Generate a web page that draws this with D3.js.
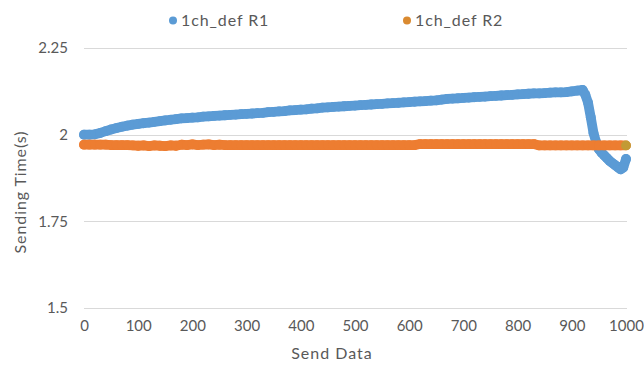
<!DOCTYPE html>
<html>
<head>
<meta charset="utf-8">
<script src="https://cdn.jsdelivr.net/npm/d3@7/dist/d3.min.js"></script>
<style>
  html, body { margin: 0; padding: 0; background: #ffffff; }
  svg { display: block; }
  text { font-family: Lato, "Open Sans", sans-serif; fill: #595959; }
</style>
</head>
<body>
<svg id="chart" width="644" height="365"></svg>
<script>
// Sending time per message for two runs of the 1ch_def configuration
const seriesNames = ["1ch_def R1", "1ch_def R2"];
const seriesColors = ["#5B9BD5", "#ED7D31"];

const r1X = [0, 10, 20, 30, 40, 50, 60, 70, 80, 90,
  100, 110, 120, 130, 140, 150, 160, 170, 180, 190,
  200, 210, 220, 230, 240, 250, 260, 270, 280, 290,
  300, 310, 320, 330, 340, 350, 360, 370, 380, 390,
  400, 410, 420, 430, 440, 450, 460, 470, 480, 490,
  500, 510, 520, 530, 540, 550, 560, 570, 580, 590,
  600, 610, 620, 630, 640, 650, 660, 670, 680, 690,
  700, 710, 720, 730, 740, 750, 760, 770, 780, 790,
  800, 810, 820, 830, 840, 850, 860, 870, 880, 890,
  900, 910, 920, 925, 930, 935, 940, 945, 950, 955,
  960, 965, 970, 975, 980, 985, 990, 995, 1000];
const r1Y = [2.000, 2.000, 2.001, 2.005, 2.010, 2.015, 2.019, 2.023, 2.026, 2.029,
  2.031, 2.033, 2.035, 2.037, 2.039, 2.041, 2.043, 2.045, 2.047, 2.048,
  2.049, 2.050, 2.052, 2.053, 2.054, 2.055, 2.056, 2.057, 2.058, 2.059,
  2.060, 2.061, 2.062, 2.063, 2.065, 2.066, 2.067, 2.068, 2.070, 2.071,
  2.072, 2.073, 2.075, 2.076, 2.078, 2.079, 2.080, 2.081, 2.082, 2.083,
  2.084, 2.085, 2.086, 2.087, 2.088, 2.089, 2.090, 2.091, 2.092, 2.093,
  2.094, 2.095, 2.096, 2.097, 2.098, 2.099, 2.101, 2.103, 2.104, 2.105,
  2.106, 2.107, 2.108, 2.109, 2.110, 2.111, 2.112, 2.113, 2.114, 2.115,
  2.116, 2.117, 2.118, 2.119, 2.119, 2.120, 2.121, 2.122, 2.122, 2.123,
  2.125, 2.127, 2.129, 2.115, 2.092, 2.050, 2.005, 1.978, 1.958, 1.948,
  1.940, 1.932, 1.924, 1.918, 1.912, 1.906, 1.900, 1.905, 1.930];

const r2X = [0, 10, 20, 30, 40, 50, 60, 70, 80, 90,
  100, 110, 120, 130, 140, 150, 160, 170, 180, 190,
  200, 210, 220, 230, 240, 250, 260, 270, 280, 290,
  300, 310, 320, 330, 340, 350, 360, 370, 380, 390,
  400, 410, 420, 430, 440, 450, 460, 470, 480, 490,
  500, 510, 520, 530, 540, 550, 560, 570, 580, 590,
  600, 610, 620, 630, 640, 650, 660, 670, 680, 690,
  700, 710, 720, 730, 740, 750, 760, 770, 780, 790,
  800, 810, 820, 830, 840, 850, 860, 870, 880, 890,
  900, 910, 920, 930, 940, 950, 960, 970, 980, 990, 1000];
const r2Y = [1.971, 1.971, 1.971, 1.971, 1.971, 1.970, 1.970, 1.970, 1.970, 1.969,
  1.968, 1.969, 1.967, 1.969, 1.968, 1.967, 1.969, 1.968, 1.971, 1.970,
  1.972, 1.970, 1.971, 1.972, 1.970, 1.971, 1.970, 1.970, 1.970, 1.970,
  1.970, 1.970, 1.970, 1.970, 1.970, 1.970, 1.970, 1.970, 1.970, 1.970,
  1.970, 1.970, 1.970, 1.970, 1.970, 1.970, 1.970, 1.970, 1.970, 1.970,
  1.970, 1.970, 1.970, 1.970, 1.970, 1.970, 1.970, 1.970, 1.970, 1.970,
  1.970, 1.970, 1.973, 1.973, 1.973, 1.973, 1.973, 1.973, 1.973, 1.973,
  1.973, 1.973, 1.973, 1.973, 1.973, 1.973, 1.973, 1.973, 1.973, 1.973,
  1.973, 1.973, 1.973, 1.973, 1.969, 1.969, 1.969, 1.969, 1.969, 1.969,
  1.969, 1.969, 1.969, 1.969, 1.969, 1.969, 1.969, 1.969, 1.969, 1.969, 1.969];

const xTicks = [0, 100, 200, 300, 400, 500, 600, 700, 800, 900, 1000];
const yTicks = [1.5, 1.75, 2, 2.25];

const xTitle = "Send Data";
const yTitle = "Sending Time(s)";

const svg = d3.select("#chart");
const plot = { left: 84, right: 626, top: 48, bottom: 308 };

const x = d3.scaleLinear().domain([0, 1000]).range([plot.left, plot.right]);
const y = d3.scaleLinear().domain([1.5, 2.25]).range([plot.bottom, plot.top]);

// horizontal gridlines
svg.append("g")
  .selectAll("line")
  .data(yTicks)
  .join("line")
  .attr("x1", plot.left)
  .attr("x2", plot.right + 1)
  .attr("y1", d => Math.round(y(d)) + 0.5)
  .attr("y2", d => Math.round(y(d)) + 0.5)
  .attr("stroke", "#d9d9d9")
  .attr("stroke-width", 1);

// y axis labels
const yAxis = d3.axisLeft(y).tickValues(yTicks).tickSize(0).tickPadding(0)
  .tickFormat(d => String(d));
svg.append("g")
  .attr("transform", `translate(${plot.left - 16},0)`)
  .call(yAxis)
  .call(g => g.select(".domain").remove())
  .selectAll("text")
  .attr("font-size", 15)
  .attr("font-family", "Lato, sans-serif")
  .attr("fill", "#595959");

// x axis labels
const xAxis = d3.axisBottom(x).tickValues(xTicks).tickSize(0).tickPadding(0)
  .tickFormat(d3.format("d"));
svg.append("g")
  .attr("transform", `translate(0,${plot.bottom + 12})`)
  .call(xAxis)
  .call(g => g.select(".domain").remove())
  .selectAll("text")
  .attr("font-size", 15)
  .attr("font-family", "Lato, sans-serif")
  .attr("fill", "#595959");

// axis titles
svg.append("text")
  .attr("x", 332)
  .attr("y", 359)
  .attr("text-anchor", "middle")
  .attr("font-size", 16)
  .attr("letter-spacing", 1)
  .text(xTitle);

svg.append("text")
  .attr("transform", "translate(26,192) rotate(-90)")
  .attr("text-anchor", "middle")
  .attr("font-size", 16)
  .attr("letter-spacing", 0.9)
  .text(yTitle);

// series: dense markers joined by a band of the same width
const markerR = 4.9;
const series = [
  { name: seriesNames[0], color: seriesColors[0], pts: r1X.map((v, i) => [v, r1Y[i]]) },
  { name: seriesNames[1], color: seriesColors[1], pts: r2X.map((v, i) => [v, r2Y[i]]) }
];

const line = d3.line().x(d => x(d[0])).y(d => y(d[1]));

series.forEach((s, si) => {
  const g = svg.append("g");
  g.append("path")
    .attr("d", line(s.pts))
    .attr("fill", "none")
    .attr("stroke", s.color)
    .attr("stroke-width", markerR * 2)
    .attr("stroke-linejoin", "round")
    .attr("stroke-linecap", "round");
  g.selectAll("circle")
    .data(s.pts)
    .join("circle")
    .attr("cx", d => x(d[0]))
    .attr("cy", d => y(d[1]))
    .attr("r", markerR)
    .attr("fill", (d, i) => (si === 1 && i === s.pts.length - 1) ? "#C29A35" : s.color);
});

// legend
const legendPos = [{ cx: 173, tx: 181 }, { cx: 407, tx: 415 }];
const legend = svg.append("g");
series.forEach((s, i) => {
  legend.append("circle")
    .attr("cx", legendPos[i].cx)
    .attr("cy", 20.5)
    .attr("r", 4)
    .attr("fill", i === 1 ? "#DA8A30" : s.color);
  legend.append("text")
    .attr("x", legendPos[i].tx)
    .attr("y", 26)
    .attr("font-size", 16)
    .attr("letter-spacing", 0.9)
    .text(s.name);
});
</script>
</body>
</html>
